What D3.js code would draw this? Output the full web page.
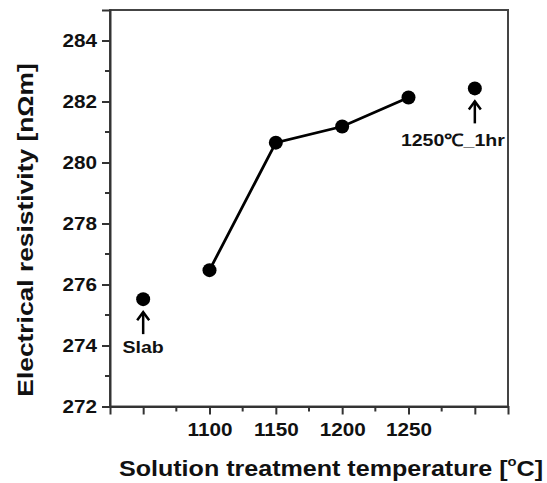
<!DOCTYPE html>
<html>
<head>
<meta charset="utf-8">
<script src="https://cdn.jsdelivr.net/npm/d3@7"></script>
<style>
  body { margin: 0; background: #fff; }
  svg text { font-family: "Liberation Sans", Arial, sans-serif; font-weight: bold; fill: #111; }
</style>
</head>
<body>
<div class="app"></div>
<script>
// series: connected treatment temperatures
var temps = [1100, 1150, 1200, 1250];
var resist = [276.47, 280.65, 281.18, 282.13];
// isolated points (slab and 1250C 1hr), placed at spare x slots
var extraX = [1050, 1300];
var extraY = [275.52, 282.43];
var extraLabels = ["Slab", "1250\u2103_1hr"];
var xTickLabels = [1100, 1150, 1200, 1250];
var yTicks = [272, 274, 276, 278, 280, 282, 284];

var width = 547, height = 483;
var margin = {left: 110, top: 10, right: 39, bottom: 76};
var sx = 1.15; // the original lettering is wider than Liberation Sans

var svg = d3.select(".app").append("svg").attr("width", width).attr("height", height);

var x = d3.scaleLinear().domain([1025, 1325]).range([margin.left, width - margin.right]);
var y = d3.scaleLinear().domain([272, 285]).range([height - margin.bottom - 0.5, margin.top]);

var stroke = "#333";

// frame
svg.append("rect")
  .attr("x", x(1025)).attr("y", y(285))
  .attr("width", x(1325) - x(1025)).attr("height", y(272) - y(285))
  .attr("fill", "none").attr("stroke", "#444").attr("stroke-width", 2);

// x axis: major ticks
var xMajor = d3.range(1050, 1301, 50);
var xMinor = d3.range(1075, 1326, 50);
var xAxis = d3.axisBottom(x).tickValues(xMajor).tickSize(8)
  .tickFormat(function(d){ return xTickLabels.indexOf(d) >= 0 ? d : ""; });
var gx = svg.append("g").attr("transform", "translate(0," + y(272) + ")").call(xAxis);
gx.select(".domain").attr("stroke", stroke).attr("stroke-width", 2);
gx.selectAll(".tick line").attr("stroke", stroke).attr("stroke-width", 2);
gx.selectAll(".tick text").attr("dy", 0).attr("y", 0)
  .attr("transform", "translate(0,29) scale(" + sx + ",1)").style("font-size", "18px");
svg.append("g").selectAll("line").data(xMinor.filter(function(d){ return d < 1325; })).enter().append("line")
  .attr("x1", function(d){ return x(d); }).attr("x2", function(d){ return x(d); })
  .attr("y1", y(272)).attr("y2", y(272) + 5)
  .attr("stroke", stroke).attr("stroke-width", 2);

// y axis
var yAxis = d3.axisLeft(y).tickValues(yTicks).tickSize(8).tickFormat(d3.format("d"));
var gy = svg.append("g").attr("transform", "translate(" + x(1025) + ",0)").call(yAxis);
gy.select(".domain").attr("stroke", stroke).attr("stroke-width", 2);
gy.selectAll(".tick line").attr("stroke", stroke).attr("stroke-width", 2);
gy.selectAll(".tick text").attr("x", 0).attr("dy", "0.34em")
  .attr("transform", "translate(-13,0) scale(" + sx + ",1)").style("font-size", "18px");
svg.append("g").selectAll("line").data(d3.range(273, 285, 2)).enter().append("line")
  .attr("x1", x(1025)).attr("x2", x(1025) - 5)
  .attr("y1", function(d){ return y(d); }).attr("y2", function(d){ return y(d); })
  .attr("stroke", stroke).attr("stroke-width", 2);

// connected line
var pts = temps.map(function(t, i){ return [t, resist[i]]; });
svg.append("path").datum(pts)
  .attr("fill", "none").attr("stroke", "#000").attr("stroke-width", 2.8)
  .attr("d", d3.line().x(function(d){ return x(d[0]); }).y(function(d){ return y(d[1]); }));

var allPts = pts.concat(extraX.map(function(t, i){ return [t, extraY[i]]; }));
svg.append("g").selectAll("circle").data(allPts).enter().append("circle")
  .attr("cx", function(d){ return x(d[0]); }).attr("cy", function(d){ return y(d[1]); })
  .attr("r", 7).attr("fill", "#000");

// annotations: arrow + label under isolated points
var ann = svg.append("g").selectAll("g").data(extraX).enter().append("g")
  .attr("transform", function(d, i){ return "translate(" + x(d) + "," + y(extraY[i]) + ")"; });
ann.append("line").attr("x1", 0).attr("x2", 0).attr("y1", 13).attr("y2", 35)
  .attr("stroke", "#000").attr("stroke-width", 2.5);
ann.append("path").attr("d", "M-6,21 L0,13 L6,21").attr("fill", "none")
  .attr("stroke", "#000").attr("stroke-width", 2.5);
ann.append("text").attr("y", 0).attr("text-anchor", "middle")
  .attr("transform", function(d, i){
    return (i ? "translate(-22,58)" : "translate(0,54)") + " scale(" + sx + ",1)";
  })
  .style("font-size", "17px")
  .text(function(d, i){ return extraLabels[i]; });

// axis titles
var xt = svg.append("text").attr("text-anchor", "middle")
  .attr("transform", "translate(331,476) scale(1.14,1)")
  .style("font-size", "22px");
xt.append("tspan").text("Solution treatment temperature [");
xt.append("tspan").attr("dy", -10).style("font-size", "13px").text("o");
xt.append("tspan").attr("dy", 10).text("C]");

svg.append("text").attr("transform", "translate(33,230) rotate(-90) scale(1.2,1)")
  .attr("text-anchor", "middle").style("font-size", "22px")
  .text("Electrical resistivity [n\u03A9m]");
</script>
</body>
</html>
